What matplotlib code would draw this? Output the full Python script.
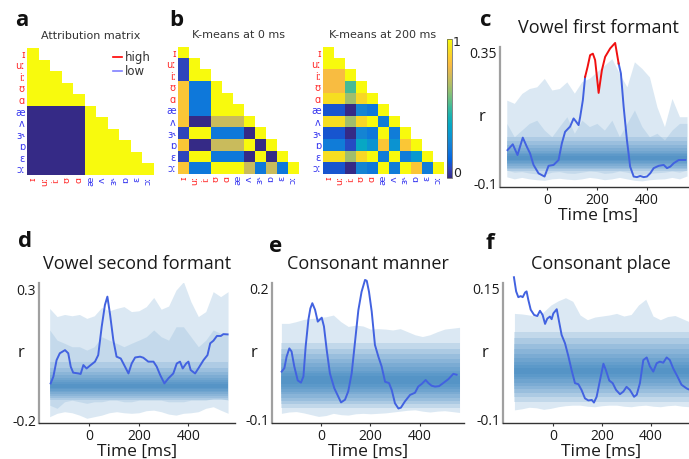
import numpy as np
import matplotlib
matplotlib.use("Agg")
import matplotlib.pyplot as plt
from matplotlib.colors import LinearSegmentedColormap, Normalize
from matplotlib.cm import ScalarMappable
from matplotlib.lines import Line2D

plt.rcParams["axes.unicode_minus"] = False

# ---------------- vowel similarity matrices ----------------
vowels = ["ɪ", "uː", "iː", "ʊ", "ɑ", "æ", "ʌ", "ɜ˞", "ɒ", "ɛ", "ɔː"]
vowel_colors = ["#ff2a2a"] * 5 + ["#3838f0"] * 6

attribution_rows = [
    [1],
    [1, 1],
    [1, 1, 1],
    [1, 1, 1, 1],
    [1, 1, 1, 1, 1],
    [0, 0, 0, 0, 0, 1],
    [0, 0, 0, 0, 0, 1, 1],
    [0, 0, 0, 0, 0, 1, 1, 1],
    [0, 0, 0, 0, 0, 1, 1, 1, 1],
    [0, 0, 0, 0, 0, 1, 1, 1, 1, 1],
    [0, 0, 0, 0, 0, 1, 1, 1, 1, 1, 1],
]

kmeans0_rows = [
    [1.0],
    [0.07, 1.0],
    [0.07, 1.0, 1.0],
    [0.85, 0.2, 0.2, 1.0],
    [0.85, 0.2, 0.2, 1.0, 1.0],
    [0.85, 0.2, 0.2, 1.0, 1.0, 1.0],
    [0.85, 0.0, 0.0, 0.72, 0.72, 0.72, 1.0],
    [0.07, 1.0, 1.0, 0.2, 0.2, 0.2, 0.0, 1.0],
    [0.85, 0.0, 0.0, 0.72, 0.72, 0.72, 1.0, 0.0, 1.0],
    [0.07, 1.0, 1.0, 0.2, 0.2, 0.2, 0.0, 1.0, 0.0, 1.0],
    [0.85, 0.2, 0.2, 1.0, 1.0, 1.0, 0.72, 0.2, 0.72, 0.2, 1.0],
]

kmeans200_rows = [
    [1.0],
    [1.0, 1.0],
    [0.82, 0.82, 1.0],
    [0.82, 0.82, 0.52, 1.0],
    [0.92, 0.92, 0.65, 0.9, 1.0],
    [0.1, 0.1, 0.0, 0.25, 0.2, 1.0],
    [0.92, 0.92, 0.65, 0.9, 1.0, 0.22, 1.0],
    [0.1, 0.1, 0.0, 0.25, 0.2, 1.0, 0.22, 1.0],
    [0.22, 0.22, 0.08, 0.38, 0.3, 0.85, 0.3, 0.85, 1.0],
    [0.92, 0.92, 0.65, 0.9, 1.0, 0.22, 1.0, 0.22, 0.32, 1.0],
    [0.1, 0.1, 0.0, 0.25, 0.2, 1.0, 0.22, 1.0, 0.85, 0.22, 1.0],
]

# parula-style colour table
parula_rgb = [
    (0.2081, 0.1663, 0.5292), (0.1959, 0.2645, 0.7279), (0.0117, 0.3875, 0.8820),
    (0.0498, 0.4586, 0.8641), (0.0793, 0.5200, 0.8312), (0.0343, 0.5966, 0.8199),
    (0.0228, 0.6535, 0.7768), (0.0843, 0.6928, 0.7062), (0.2178, 0.7250, 0.6193),
    (0.3953, 0.7459, 0.5244), (0.5709, 0.7485, 0.4494), (0.7184, 0.7411, 0.3905),
    (0.8507, 0.7299, 0.3360), (0.9739, 0.7314, 0.2666), (0.9880, 0.8066, 0.1794),
    (0.9599, 0.8949, 0.1132), (0.9763, 0.9831, 0.0538),
]
parula = LinearSegmentedColormap.from_list("parula", parula_rgb)

# ---------------- decoding time courses ----------------
band_t = [-160, -130, -100, -70, -40, -10, 20, 50, 80, 110, 140, 170, 200,
          230, 260, 290, 320, 350, 380, 410, 440, 470, 500, 530, 560]

# Vowel first formant
c_t = [-157, -136, -117, -96, -80, -67, -53, -33, -9, 7, 27, 47, 60, 73, 93,
       107, 117, 127, 133, 144, 153, 163, 173, 184, 193, 207, 220, 233, 253,
       273, 287, 296, 307, 320, 333, 347, 360, 373, 387, 400, 413, 427, 447,
       467, 480, 493, 507, 527, 553]
c_r = [0.014, 0.034, -0.003, 0.057, 0.026, 0.003, -0.037, -0.066, -0.077,
       -0.040, -0.037, -0.020, 0.037, 0.077, 0.095, 0.123, 0.112, 0.100, 0.127,
       0.186, 0.266, 0.301, 0.341, 0.346, 0.324, 0.211, 0.289, 0.335, 0.364,
       0.383, 0.312, 0.278, 0.163, 0.049, -0.043, -0.077, -0.079, -0.075,
       -0.079, -0.077, -0.066, -0.048, -0.040, -0.037, -0.048, -0.043, -0.031,
       -0.020, -0.020]
c_sig = (153, 287)
c_outer_hi = [0.186, 0.175, 0.209, 0.226, 0.232, 0.261, 0.221, 0.226, 0.249,
              0.210, 0.250, 0.261, 0.284, 0.306, 0.329, 0.278, 0.232, 0.318,
              0.295, 0.266, 0.163, 0.095, 0.192, 0.129, 0.129]
c_outer_lo = [-0.078, -0.085, -0.080, -0.085, -0.088, -0.090, -0.085, -0.083,
              -0.086, -0.088, -0.085, -0.080, -0.083, -0.088, -0.085, -0.080,
              -0.085, -0.090, -0.092, -0.088, -0.086, -0.085, -0.080, -0.085,
              -0.075]
c_mid_hi = [0.106, 0.060, 0.083, 0.106, 0.117, 0.083, 0.060, 0.095, 0.129,
            0.072, 0.117, 0.095, 0.106, 0.083, 0.117, 0.060, 0.106, 0.152,
            0.095, 0.060, 0.072, 0.049, 0.083, 0.106, 0.106]
c_mid_lo = [-0.055, -0.062, -0.060, -0.065, -0.068, -0.070, -0.062, -0.060,
            -0.065, -0.066, -0.062, -0.058, -0.060, -0.066, -0.064, -0.058,
            -0.062, -0.068, -0.070, -0.066, -0.064, -0.062, -0.058, -0.062,
            -0.055]
c_levels = [(-0.058, 0.060), (-0.052, 0.045), (-0.046, 0.032), (-0.040, 0.021),
            (-0.034, 0.012), (-0.029, 0.005), (-0.024, -0.001),
            (-0.020, -0.006)]

# Vowel second formant
d_t = [-156, -145, -132, -119, -98, -85, -75, -65, -44, -35, -24, -11, 3, 23,
       36, 50, 63, 73, 84, 97, 110, 127, 144, 158, 171, 185, 205, 218, 238,
       259, 272, 286, 303, 319, 339, 353, 366, 377, 391, 400, 409, 427, 440,
       461, 477, 488, 501, 515, 531, 541, 558]
d_r = [-0.060, -0.034, 0.029, 0.055, 0.067, 0.055, 0.004, -0.019, -0.022,
       -0.024, 0.010, -0.003, 0.008, 0.023, 0.048, 0.156, 0.239, 0.271, 0.201,
       0.105, 0.042, 0.035, 0.004, -0.022, 0.016, 0.039, 0.042, 0.038, 0.023,
       0.023, 0.004, -0.028, -0.060, -0.041, -0.022, 0.016, 0.023, -0.003,
       0.016, 0.023, -0.009, -0.022, -0.003, 0.029, 0.048, 0.093, 0.103, 0.121,
       0.121, 0.128, 0.127]
d_outer_hi = [0.226, 0.195, 0.203, 0.198, 0.203, 0.188, 0.198, 0.230, 0.217,
              0.226, 0.233, 0.214, 0.217, 0.233, 0.268, 0.223, 0.235, 0.296,
              0.328, 0.252, 0.195, 0.214, 0.290, 0.271, 0.290]
d_outer_lo = [-0.187, -0.174, -0.168, -0.172, -0.181, -0.193, -0.187, -0.181,
              -0.172, -0.168, -0.172, -0.174, -0.172, -0.164, -0.162, -0.168,
              -0.177, -0.181, -0.174, -0.172, -0.168, -0.155, -0.149, -0.162,
              -0.174]
d_mid_hi = [0.144, 0.105, 0.093, 0.080, 0.080, 0.067, 0.080, 0.118, 0.105,
            0.093, 0.080, 0.093, 0.105, 0.118, 0.144, 0.118, 0.105, 0.156,
            0.156, 0.118, 0.080, 0.105, 0.144, 0.131, 0.131]
d_mid_lo = [-0.143, -0.155, -0.130, -0.124, -0.130, -0.136, -0.130, -0.130,
            -0.124, -0.124, -0.130, -0.130, -0.124, -0.124, -0.124, -0.124,
            -0.130, -0.130, -0.130, -0.124, -0.124, -0.124, -0.118, -0.118,
            -0.124]
d_levels = [(-0.125, 0.020), (-0.117, 0.000), (-0.109, -0.015),
            (-0.101, -0.028), (-0.094, -0.038), (-0.088, -0.047),
            (-0.082, -0.054), (-0.077, -0.062)]

# Consonant manner
e_t = [-159, -148, -139, -128, -119, -108, -94, -81, -71, -62, -51, -43, -35,
       -24, -13, -4, 3, 12, 23, 36, 54, 70, 81, 97, 110, 124, 137, 151, 164,
       178, 185, 194, 205, 218, 232, 245, 259, 275, 286, 299, 313, 323, 339,
       360, 380, 393, 407, 423, 434, 447, 461, 477, 494, 515, 535, 548]
e_r = [0.010, 0.018, 0.044, 0.063, 0.056, 0.022, -0.010, -0.015, -0.001,
       0.067, 0.128, 0.154, 0.166, 0.151, 0.124, 0.129, 0.133, 0.113, 0.060,
       0.006, -0.028, -0.047, -0.060, -0.054, -0.035, 0.006, 0.075, 0.150,
       0.192, 0.219, 0.217, 0.192, 0.147, 0.071, 0.044, 0.022, -0.013, -0.016,
       -0.032, -0.062, -0.074, -0.072, -0.058, -0.043, -0.038, -0.024, -0.018,
       -0.009, -0.016, -0.022, -0.024, -0.023, -0.016, -0.007, 0.005, 0.003]
e_outer_hi = [0.120, 0.120, 0.124, 0.129, 0.131, 0.133, 0.135, 0.139, 0.124,
              0.113, 0.116, 0.114, 0.107, 0.108, 0.107, 0.105, 0.108, 0.101,
              0.094, 0.090, 0.094, 0.101, 0.107, 0.109, 0.111]
e_outer_lo = [-0.085, -0.082, -0.081, -0.084, -0.088, -0.092, -0.090, -0.085,
              -0.088, -0.089, -0.086, -0.085, -0.086, -0.085, -0.084, -0.082,
              -0.080, -0.078, -0.077, -0.080, -0.082, -0.080, -0.079, -0.081,
              -0.083]
e_levels = [(-0.072, 0.075), (-0.064, 0.062), (-0.056, 0.050), (-0.049, 0.039),
            (-0.042, 0.029), (-0.036, 0.020), (-0.030, 0.012), (-0.024, 0.006),
            (-0.019, 0.001)]

# Consonant place
f_t = [-162, -153, -144, -134, -126, -116, -110, -103, -93, -79, -66, -55,
       -44, -34, -25, -14, -7, 0, 14, 25, 34, 48, 62, 75, 89, 103, 116, 130,
       144, 158, 167, 178, 192, 206, 216, 230, 244, 258, 274, 288, 301, 315,
       332, 343, 356, 370, 384, 397, 411, 425, 438, 452, 466, 479, 493, 510,
       527, 548, 562]
f_r = [0.171, 0.144, 0.133, 0.135, 0.133, 0.142, 0.144, 0.128, 0.109, 0.099,
       0.097, 0.107, 0.099, 0.082, 0.092, 0.096, 0.091, 0.102, 0.110, 0.083,
       0.061, 0.045, 0.020, -0.006, -0.031, -0.033, -0.044, -0.060, -0.064,
       -0.063, -0.068, -0.057, -0.025, 0.006, -0.006, -0.026, -0.031, -0.044,
       -0.052, -0.047, -0.038, -0.044, -0.057, -0.053, -0.031, 0.013, 0.018,
       0.001, -0.009, 0.007, 0.010, 0.008, 0.018, 0.013, -0.003, -0.018,
       -0.034, -0.041, -0.044]
f_outer_hi = [0.102, 0.101, 0.099, 0.097, 0.105, 0.118, 0.126, 0.132, 0.125,
              0.099, 0.090, 0.095, 0.097, 0.099, 0.102, 0.097, 0.100, 0.118,
              0.129, 0.097, 0.090, 0.096, 0.098, 0.092, 0.086]
f_outer_lo = [-0.082, -0.080, -0.077, -0.078, -0.081, -0.079, -0.076, -0.074,
              -0.073, -0.073, -0.075, -0.076, -0.074, -0.073, -0.073, -0.075,
              -0.076, -0.074, -0.073, -0.075, -0.076, -0.074, -0.073, -0.075,
              -0.076]
f_levels = [(-0.066, 0.066), (-0.058, 0.055), (-0.050, 0.044), (-0.043, 0.034),
            (-0.036, 0.025), (-0.030, 0.017), (-0.024, 0.010), (-0.019, 0.004),
            (-0.014, -0.002)]

# ---------------- figure ----------------
W, H = 689, 459
fig = plt.figure(figsize=(W / 100, H / 100), dpi=100)


def rect(x0, y0, x1, y1):
    return [x0 / W, 1 - y1 / H, (x1 - x0) / W, (y1 - y0) / H]


def draw_matrix(ax, rows, title):
    n = len(vowels)
    m = np.full((n, n), np.nan)
    for i, row in enumerate(rows):
        m[i, :len(row)] = row
    ax.imshow(m, cmap=parula, vmin=0, vmax=1, aspect="auto",
              interpolation="nearest")
    ax.set_xticks(range(n))
    ax.set_yticks(range(n))
    ax.set_xticklabels(vowels, rotation=90, fontsize=6.8, family="DejaVu Sans")
    ax.set_yticklabels(vowels, fontsize=7, family="DejaVu Sans")
    for lab, col in zip(ax.get_xticklabels(), vowel_colors):
        lab.set_color(col)
    for lab, col in zip(ax.get_yticklabels(), vowel_colors):
        lab.set_color(col)
    ax.tick_params(length=0, pad=1.5)
    for s in ax.spines.values():
        s.set_visible(False)
    ax.set_title(title, fontsize=8, color="#333333", pad=6.5,
                 family="DejaVu Sans")


ax_a = fig.add_axes(rect(27, 48, 154, 175))
draw_matrix(ax_a, attribution_rows, "Attribution matrix")
ax_a.legend(handles=[Line2D([], [], color="#ff0000", lw=1.2),
                     Line2D([], [], color="#8080ff", lw=1.2)],
            labels=["high", "low"], loc="upper right",
            bbox_to_anchor=(1.02, 1.02), frameon=False, fontsize=8.5,
            handlelength=0.8, handletextpad=0.2, labelspacing=0.05,
            borderpad=0, labelcolor="#333333")

ax_b1 = fig.add_axes(rect(178, 47, 298, 174))
draw_matrix(ax_b1, kmeans0_rows, "K-means at 0 ms")

ax_b2 = fig.add_axes(rect(323, 47, 443, 174))
draw_matrix(ax_b2, kmeans200_rows, "K-means at 200 ms")

cax = fig.add_axes(rect(447, 39, 452, 178))
cb = fig.colorbar(ScalarMappable(Normalize(0, 1), parula), cax=cax, ticks=[])
cb.outline.set_linewidth(0.5)
cb.outline.set_edgecolor("#555555")
fig.text(453 / W, 1 - 43 / H, "1", fontsize=9, va="center", ha="left",
         color="#222222")
fig.text(453 / W, 1 - 173 / H, "0", fontsize=9, va="center", ha="left",
         color="#222222")

BAND = "#2b7bba"
LINE = "#4262e0"
TXT = "#1a1a1a"
SANS = "Open Sans"


def null_bands(ax, outer_lo, outer_hi, levels, mid_lo=None, mid_hi=None):
    ax.fill_between(band_t, outer_lo, outer_hi, color=BAND, alpha=0.17, lw=0)
    if mid_lo is not None:
        ax.fill_between(band_t, mid_lo, mid_hi, color=BAND, alpha=0.13, lw=0)
    for lo, hi in levels:
        ax.fill_between(band_t, lo, hi, color=BAND, alpha=0.14, lw=0)


def style_axis(ax, xlim, ylim, yticks, ylabels, title):
    ax.set_xlim(xlim)
    ax.set_ylim(ylim)
    ax.patch.set_alpha(0)
    ax.set_xticks([0, 200, 400])
    ax.set_xticklabels(["0", "200", "400"], fontsize=10, family=SANS,
                       color=TXT)
    ax.set_yticks(yticks)
    ax.set_yticklabels(ylabels, fontsize=10, family=SANS, color=TXT)
    ax.tick_params(axis="y", length=0, pad=2)
    ax.tick_params(axis="x", length=2.5, width=0.8, color="#333333", pad=1.5)
    for s in ("top", "right"):
        ax.spines[s].set_visible(False)
    ax.spines["left"].set_color("#a0a0a0")
    ax.spines["left"].set_linewidth(1.6)
    ax.spines["bottom"].set_color("#333333")
    ax.spines["bottom"].set_linewidth(1.0)
    ax.set_xlabel("Time [ms]", fontsize=12.5, family=SANS, color=TXT,
                  labelpad=0)
    ax.set_title(title, fontsize=13, family=SANS, color=TXT, pad=10)
    ax.annotate("r", xy=(0, 0.5), xycoords="axes fraction", xytext=(-13, 0),
                textcoords="offset points", ha="center", va="center",
                fontsize=12, family=SANS, color=TXT)


# c: vowel first formant
ax_c = fig.add_axes(rect(500, 47, 697, 187))
null_bands(ax_c, c_outer_lo, c_outer_hi, c_levels, c_mid_lo, c_mid_hi)
ct = np.array(c_t)
cr = np.array(c_r)
pre = ct <= c_sig[0]
sig = (ct >= c_sig[0]) & (ct <= c_sig[1])
post = ct >= c_sig[1]
ax_c.plot(ct[pre], cr[pre], color=LINE, lw=1.4, clip_on=False)
ax_c.plot(ct[post], cr[post], color=LINE, lw=1.4, clip_on=False)
ax_c.plot(ct[sig], cr[sig], color="#f01010", lw=1.4, clip_on=False)
style_axis(ax_c, (-187, 600), (-0.113, 0.369), [-0.1, 0.35],
           ["-0.1", "0.35"], "Vowel first formant")

# d: vowel second formant
ax_d = fig.add_axes(rect(39, 283, 235, 423))
null_bands(ax_d, d_outer_lo, d_outer_hi, d_levels, d_mid_lo, d_mid_hi)
ax_d.plot(d_t, d_r, color=LINE, lw=1.4, clip_on=False)
style_axis(ax_d, (-203, 588), (-0.211, 0.323), [-0.2, 0.3],
           ["-0.2", "0.3"], "Vowel second formant")

# e: consonant manner
ax_e = fig.add_axes(rect(272, 283, 464, 423))
null_bands(ax_e, e_outer_lo, e_outer_hi, e_levels)
ax_e.plot(e_t, e_r, color=LINE, lw=1.4, clip_on=False)
style_axis(ax_e, (-198, 578), (-0.107, 0.212), [-0.1, 0.2],
           ["-0.1", "0.2"], "Consonant manner")

# f: consonant place
ax_f = fig.add_axes(rect(503, 283, 699, 423))
null_bands(ax_f, f_outer_lo, f_outer_hi, f_levels)
ax_f.plot(f_t, f_r, color=LINE, lw=1.4, clip_on=False)
style_axis(ax_f, (-207, 599), (-0.107, 0.160), [-0.1, 0.15],
           ["-0.1", "0.15"], "Consonant place")

# panel letters
for letter, x, y in [("a", 21.5, 21), ("b", 176.5, 20), ("c", 485.5, 20.5),
                     ("d", 25, 241.5), ("e", 275.5, 246), ("f", 490, 243.5)]:
    fig.text(x / W, 1 - y / H, letter, fontsize=16, fontweight="bold",
             family=SANS, ha="center", va="center", color="#111111")

fig.savefig("out.png", dpi=100)
